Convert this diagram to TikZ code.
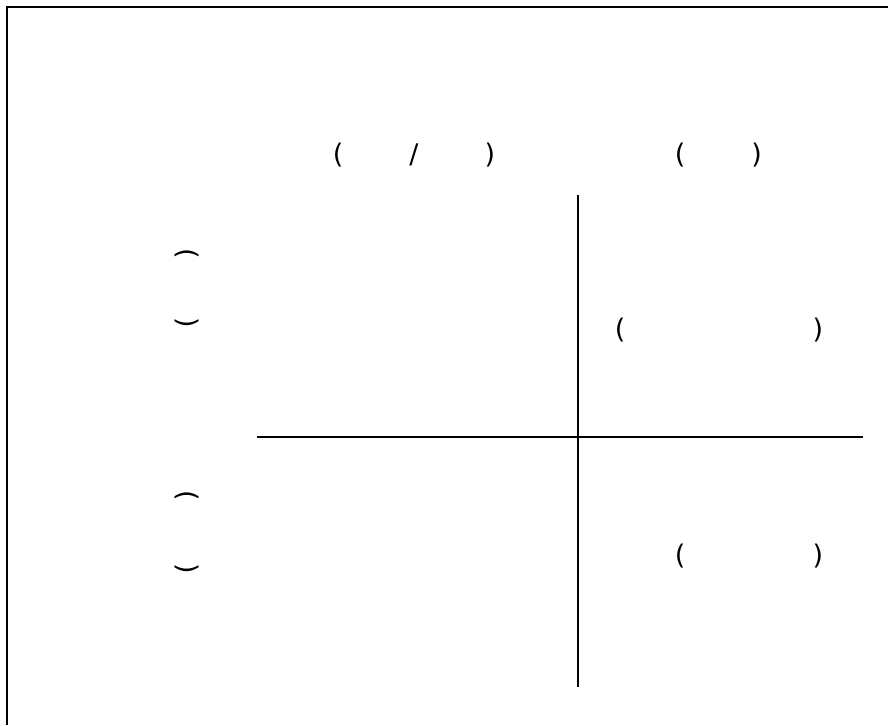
\documentclass[tikz,border=0pt]{standalone}
\usepackage{fontspec}
\setmainfont{DejaVu Sans}
\usepackage{tikz}
\usetikzlibrary{positioning}

\newcommand{\gap}[1]{\hspace*{#1}}

\begin{document}
\begin{tikzpicture}[
  x=1pt, y=1pt,
  font=\fontsize{27}{30}\selectfont,
  lbl/.style={inner sep=0pt, anchor=center},
  vlbl/.style={lbl, rotate=-90},
  frame/.style={line width=1.6pt},
  axis/.style={line width=1.2pt}
]
\useasboundingbox (0,0) rectangle (888,725);
\coordinate (tl) at (7,718);
\coordinate (tr) at (888,718);
\coordinate (bl) at (7,0);
\draw[frame] (bl) -- (tl) -- (tr);

% axes
\coordinate (vt) at (578,530);
\coordinate (vb) at (578,38);
\coordinate (hl) at (257,288);
\coordinate (hr) at (863,288);
\draw[axis] (vt) -- (vb);
\draw[axis] (hl) -- (hr);

% column heads
\node[lbl] (hdA) at (414,570) {(\gap{66pt}/\gap{66pt})};
\node[lbl] (hdB) at (718.5,570) {(\gap{66pt})};

% row heads
\node[vlbl] (rwA) at (187,436.5) {(\gap{59pt})};
\node[vlbl] (rwB) at (187,192.5) {(\gap{62pt})};

% cells
\node[lbl] (clA) at (719,395) {(\gap{187pt})};
\node[lbl] (clB) at (749,169) {(\gap{127pt})};
\end{tikzpicture}
\end{document}
